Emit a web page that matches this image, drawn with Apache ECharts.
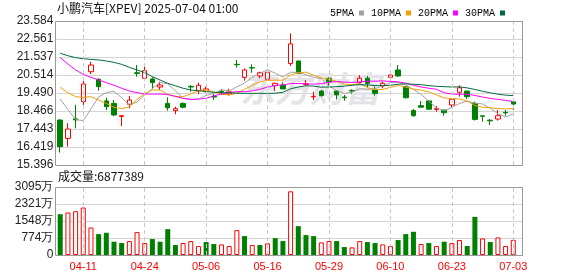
<!DOCTYPE html>
<html><head><meta charset="utf-8">
<script src="https://cdn.jsdelivr.net/npm/echarts@6/dist/echarts.min.js"></script>
<style>html,body{margin:0;padding:0;background:#fff}#c{width:578px;height:276px}</style>
</head><body><div id="c"></div>
<script>
const dates = ['04-08','04-09','04-10','04-11','04-14','04-15','04-16','04-17','04-21','04-22','04-23','04-24','04-25','04-28','04-29','04-30','05-01','05-02','05-05','05-06','05-07','05-08','05-09','05-12','05-13','05-14','05-15','05-16','05-19','05-20','05-21','05-22','05-23','05-27','05-28','05-29','05-30','06-02','06-03','06-04','06-05','06-06','06-09','06-10','06-11','06-12','06-13','06-16','06-17','06-18','06-20','06-23','06-24','06-25','06-26','06-27','06-30','07-01','07-02','07-03'];
const openP  = [17.95,16.91,18.02,19.00,20.70,20.27,19.04,18.90,18.16,18.85,20.64,20.33,20.29,19.83,18.90,18.49,18.90,19.87,19.62,19.60,19.30,19.58,19.44,21.12,20.38,20.93,20.46,20.27,19.91,19.94,21.16,21.31,19.97,19.27,19.60,20.33,19.60,19.26,19.64,20.08,20.33,19.66,19.89,20.38,20.80,19.85,18.49,18.77,19.04,18.56,18.52,18.81,19.53,19.60,18.90,18.19,17.94,18.01,18.39,18.99];
const closeP = [16.44,17.44,17.96,20.00,21.08,19.85,18.71,18.24,18.20,19.09,20.60,20.76,20.08,19.94,18.65,18.60,18.68,19.83,19.93,19.72,19.26,19.54,19.56,21.10,20.80,20.91,20.64,20.67,20.04,19.72,22.28,20.61,20.00,19.30,19.34,20.13,19.38,19.22,19.60,20.33,20.04,19.47,20.04,20.51,20.46,19.22,18.20,18.68,18.57,18.60,18.37,19.13,19.79,19.28,17.99,18.17,17.91,18.20,18.36,18.86];
const lowP   = [16.10,16.44,17.48,18.81,20.57,19.62,18.52,18.18,17.61,18.62,20.42,20.27,19.72,19.66,18.49,18.28,18.62,19.56,19.43,19.51,19.09,19.38,19.36,20.93,20.19,20.64,20.33,20.24,19.60,19.71,21.03,20.57,19.91,19.09,19.28,19.91,19.13,19.05,19.45,20.02,19.81,19.34,19.76,20.13,20.41,19.18,18.14,18.68,18.55,18.43,18.20,18.68,19.28,19.15,17.92,17.86,17.67,17.92,18.20,18.52];
const highP  = [18.01,17.77,18.81,20.23,21.27,20.33,19.22,19.09,18.24,19.32,21.08,20.98,20.38,20.13,19.24,18.71,18.96,19.94,20.08,19.85,19.43,19.72,19.73,21.37,20.89,21.12,20.70,20.70,20.08,20.10,22.88,21.33,20.23,19.56,19.66,20.38,19.66,19.38,19.70,20.51,20.46,19.85,20.13,20.52,21.08,19.87,18.58,19.03,19.09,18.75,18.55,19.17,19.93,19.62,19.00,18.20,18.01,18.52,18.52,19.09];
const ma5  = [19.15,18.55,17.98,17.92,18.58,19.27,19.52,19.58,19.22,18.82,18.97,19.38,19.75,20.09,20.01,19.61,19.19,19.14,19.14,19.35,19.48,19.66,19.60,19.84,20.05,20.38,20.60,20.82,20.61,20.40,20.67,20.66,20.53,20.38,20.31,19.88,19.63,19.47,19.53,19.73,19.71,19.73,19.90,20.08,20.10,19.94,19.69,19.41,19.02,18.65,18.48,18.67,18.89,19.03,18.91,18.87,18.63,18.31,18.13,18.30];
const ma10 = [19.81,19.51,19.28,19.24,19.28,19.09,18.90,18.68,18.60,18.70,19.12,19.45,19.66,19.66,19.41,19.29,19.28,19.44,19.62,19.68,19.55,19.42,19.37,19.48,19.70,19.93,20.12,20.21,20.22,20.22,20.52,20.63,20.68,20.50,20.35,20.27,20.15,20.00,19.96,20.02,19.80,19.68,19.69,19.81,19.92,19.83,19.71,19.66,19.55,19.38,19.21,19.18,19.15,19.03,18.78,18.68,18.65,18.61,18.58,18.61];
const ma20 = [21.50,21.14,20.80,20.55,20.38,20.23,20.08,19.93,19.76,19.60,19.51,19.43,19.43,19.43,19.40,19.30,19.18,19.12,19.14,19.19,19.33,19.43,19.51,19.57,19.56,19.61,19.70,19.83,19.92,19.95,20.03,20.03,20.02,19.99,20.02,20.10,20.14,20.11,20.09,20.12,20.16,20.16,20.18,20.15,20.13,20.05,19.93,19.83,19.76,19.70,19.51,19.43,19.42,19.42,19.35,19.26,19.18,19.13,19.07,19.00];
const ma30 = [21.75,21.61,21.50,21.44,21.40,21.37,21.31,21.23,21.12,20.95,20.80,20.65,20.42,20.23,20.04,19.90,19.76,19.66,19.62,19.57,19.53,19.51,19.50,19.48,19.47,19.47,19.47,19.47,19.48,19.53,19.73,19.83,19.90,19.88,19.82,19.83,19.85,19.88,19.93,19.97,19.95,19.91,19.91,19.93,19.99,20.01,19.99,19.96,19.91,19.87,19.85,19.83,19.84,19.78,19.69,19.59,19.50,19.42,19.37,19.34];
const volume = [1857,1934,1993,2160,1253,951,1012,604,544,634,1042,544,725,604,1178,453,544,634,408,589,498,483,408,1133,861,453,453,528,770,634,2899,1314,906,861,574,634,634,362,347,634,589,544,483,408,680,951,1057,498,544,408,604,544,680,408,1736,755,589,800,408,688];
const priceTicks = ['15.396','16.419','17.443','18.466','19.490','20.514','21.537','22.561','23.584'];
const volTicks = ['0','774万','1548万','2321万','3095万'];
const labelDates = ['04-11','04-24','05-06','05-16','05-29','06-10','06-23','07-03'];

const P_MIN = 15.396, P_MAX = 23.584, P_INT = 1.0235;
const V_MAX = 3095, V_INT = 773.75;
const cats = dates.concat(['']);
const UP = '#ff0000', DOWN = '#008000';

const chart = echarts.init(document.getElementById('c'), null, {renderer: 'canvas'});
const dashLine = {
  symbol: 'none', silent: true, label: {show: false}, animation: false,
  lineStyle: {type: [4, 3], color: '#c8c8c8', width: 1},
  emphasis: {disabled: true},
  data: labelDates.map(d => ({xAxis: d}))
};
const volData = volume.map((v, i) => {
  const up = i > 0 && closeP[i] >= closeP[i - 1];
  return {value: v, itemStyle: up ? {color: '#fff', borderColor: UP, borderWidth: 1} : {color: DOWN, borderColor: DOWN, borderWidth: 0}};
});
const lineSeries = (name, data, color) => ({
  name, type: 'line', data, xAxisIndex: 0, yAxisIndex: 0, symbol: 'none', z: 4,
  lineStyle: {width: 1, color}, itemStyle: {color}, silent: true
});

chart.setOption({
  animation: false,
  textStyle: {fontFamily: 'Liberation Sans'},
  legend: {
    data: ['5PMA', '10PMA', '20PMA', '30PMA'], top: 3, right: 68, align: 'right', icon: 'rect',
    itemWidth: 5, itemHeight: 5, itemGap: 7, selectedMode: false,
    textStyle: {fontFamily: 'Liberation Mono', fontSize: 10, color: '#000'}
  },
  grid: [
    {left: 56.4, top: 21, width: 468.4, height: 144},
    {left: 56.4, top: 187, width: 468.4, height: 68}
  ],
  xAxis: [
    {type: 'category', gridIndex: 0, data: cats, boundaryGap: true,
     axisLine: {show: false}, axisTick: {show: false}, axisLabel: {show: false}, splitLine: {show: false}},
    {type: 'category', gridIndex: 1, data: cats, boundaryGap: true,
     axisLine: {show: false}, axisTick: {show: false}, splitLine: {show: false},
     axisLabel: {interval: (idx, val) => labelDates.indexOf(val) >= 0, color: UP, fontSize: 11, margin: 6, fontFamily: 'Liberation Sans'}}
  ],
  yAxis: [
    {type: 'value', gridIndex: 0, min: P_MIN, max: P_MAX, interval: P_INT, scale: true,
     axisLine: {show: false}, axisTick: {show: false},
     axisLabel: {formatter: v => priceTicks[Math.round((v - P_MIN) / P_INT)] || '', color: '#222', fontSize: 12, margin: 3},
     splitLine: {lineStyle: {color: '#d4d4d4', width: 1}}},
    {type: 'value', gridIndex: 1, min: 0, max: V_MAX, interval: V_INT,
     axisLine: {show: false}, axisTick: {show: false},
     axisLabel: {formatter: v => volTicks[Math.round(v / V_INT)] || '', color: '#222', fontSize: 12, margin: 3},
     splitLine: {lineStyle: {color: '#d4d4d4', width: 1}}}
  ],
  series: [
    {type: 'candlestick', xAxisIndex: 0, yAxisIndex: 0, barWidth: 5, z: 3, silent: true,
     data: dates.map((d, i) => [openP[i], closeP[i], lowP[i], highP[i]]),
     itemStyle: {color: '#fff', color0: DOWN, borderColor: UP, borderColor0: DOWN, borderWidth: 1},
     markLine: dashLine},
    lineSeries('5PMA', ma5, '#a0a0a0'),
    lineSeries('10PMA', ma10, '#f0a000'),
    lineSeries('20PMA', ma20, '#ff00ff'),
    lineSeries('30PMA', ma30, '#006b3c'),
    {type: 'bar', xAxisIndex: 1, yAxisIndex: 1, barWidth: 5, data: volData, silent: true, z: 3, markLine: dashLine}
  ],
  graphic: [
    {type: 'text', z: 1, silent: true, left: 240, top: 71,
     style: {text: '东方财富', font: 'bold italic 35px "Noto Sans CJK SC"', fill: '#e3e3e8'}},
    {type: 'rect', z: 50, silent: true, shape: {x: 523, y: 15, width: 60, height: 245}, style: {fill: '#fff'}},
    {type: 'rect', z: 60, silent: true, shape: {x: 55.5, y: 21.5, width: 467, height: 144}, style: {fill: 'none', stroke: '#999', lineWidth: 1}},
    {type: 'rect', z: 60, silent: true, shape: {x: 55.5, y: 187.5, width: 467, height: 68}, style: {fill: 'none', stroke: '#999', lineWidth: 1}},
    {type: 'text', z: 60, left: 57, top: 2, style: {text: '小鹏汽车[XPEV] 2025-07-04 01:00', font: '12px "Noto Sans CJK SC"', fill: '#111'}},
    {type: 'text', z: 60, left: 58, top: 170, style: {text: '成交量:6877389', font: '12px "Noto Sans CJK SC"', fill: '#111'}}
  ]
});
</script></body></html>
